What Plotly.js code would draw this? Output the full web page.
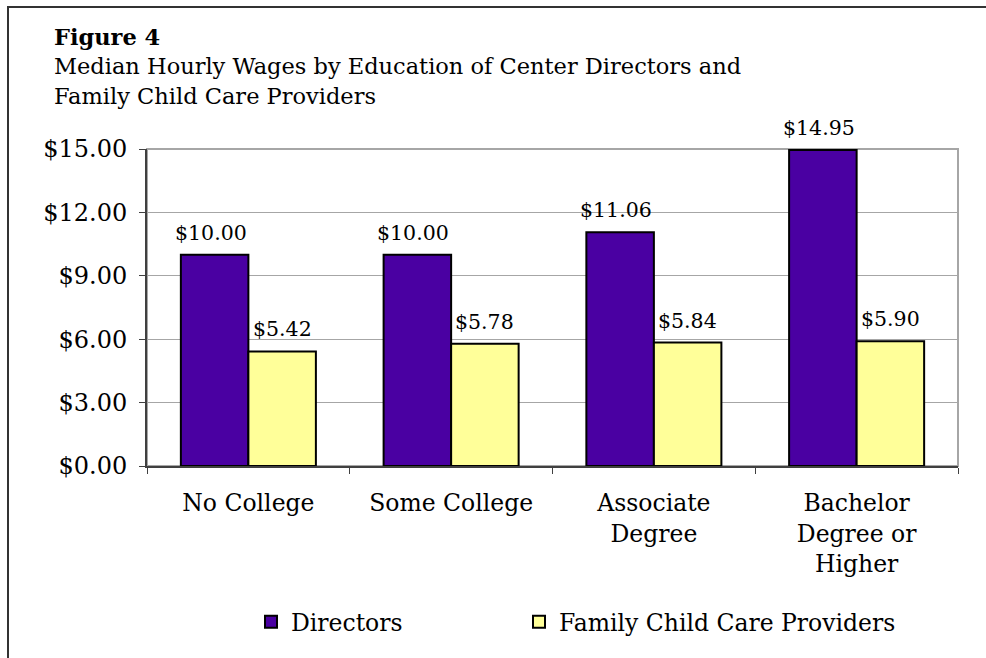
<!DOCTYPE html>
<html lang="en">
<head>
    <meta charset="UTF-8"/>
    <title>Figure 4</title>
    <script src="https://cdn.plot.ly/plotly-3.0.1.min.js"></script>
    <style>
    body {
        margin: 0;
        background: white;
    }

    #frame {
        position: absolute;
        left: 7px;
        top: 6px;
        width: 1000px;
        height: 700px;
        border-left: 2px solid #333;
        border-top: 2px solid #333;
        pointer-events: none;
    }
    </style>
</head>
<body>
    <div id="chart" style="width:986px;height:658px;"></div>
    <div id="frame"></div>

    <script>
        // data
        var categories = ['No College', 'Some College', 'Associate<br>Degree', 'Bachelor<br>Degree or<br>Higher'];
        var directors = [10.00, 10.00, 11.06, 14.95];
        var providers = [5.42, 5.78, 5.84, 5.90];
        var yTicks = [0, 3, 6, 9, 12, 15];

        var serif = 'DejaVu Serif, Liberation Serif, serif';
        var bargap = 0.334;

        var directorsTrace = {
            x: categories,
            y: directors,
            name: 'Directors',
            type: 'bar',
            legend: 'legend',
            marker: { color: '#4a00a2', line: { color: '#000', width: 2 } },
            hoverinfo: 'none'
        };

        var providersTrace = {
            x: categories,
            y: providers,
            name: 'Family Child Care Providers',
            type: 'bar',
            legend: 'legend2',
            marker: { color: '#ffff99', line: { color: '#000', width: 2 } },
            hoverinfo: 'none'
        };

        //=============================================================
        // value labels a little above each bar

        var plotW = 986 - 147 - 28;
        var halfBar = plotW / categories.length * (1 - bargap) / 4;
        var annotations = [];
        [directors, providers].forEach(function (series, s) {
            series.forEach(function (v, i) {
                annotations.push({
                    x: categories[i],
                    y: v,
                    xref: 'x', yref: 'y',
                    text: '$' + v.toFixed(2),
                    showarrow: false,
                    yanchor: 'bottom',
                    yshift: 8,
                    xshift: s === 0 ? -halfBar - 4 : halfBar,
                    font: { family: serif, size: 20.5, color: '#000' }
                });
            });
        });

        var legendFont = { family: serif, size: 23.5, color: '#000' };

        var layout = {
            width: 986,
            height: 658,
            margin: { l: 147, r: 28, t: 149, b: 192 },
            paper_bgcolor: 'white',
            plot_bgcolor: 'white',
            font: { family: serif, size: 22, color: '#000' },
            title: {
                text: '<b>Figure 4</b><br>Median Hourly Wages by Education of Center Directors and<br>Family Child Care Providers',
                font: { family: serif, size: 22.5, color: '#000' },
                x: 54 / 986,
                xanchor: 'left',
                xref: 'container',
                y: 1 - 45 / 658,
                yanchor: 'top',
                yref: 'container'
            },
            barmode: 'group',
            bargap: bargap,
            bargroupgap: 0,
            showlegend: true,
            legend: {
                orientation: 'h',
                x: 251 / 986,
                xanchor: 'left',
                xref: 'container',
                y: 1 - 600 / 658,
                yanchor: 'top',
                yref: 'container',
                font: legendFont
            },
            legend2: {
                orientation: 'h',
                x: 519 / 986,
                xanchor: 'left',
                xref: 'container',
                y: 1 - 600 / 658,
                yanchor: 'top',
                yref: 'container',
                font: legendFont
            },
            annotations: annotations,
            xaxis: {
                type: 'category',
                showline: true,
                linecolor: '#404040',
                linewidth: 2,
                ticks: 'outside',
                tickson: 'boundaries',
                ticklen: 6,
                tickcolor: '#404040',
                ticklabelstandoff: 15,
                tickfont: { family: serif, size: 23.5, color: '#000' },
                showgrid: false
            },
            yaxis: {
                range: [0, 15],
                tickvals: yTicks,
                tickformat: '$.2f',
                showline: true,
                linecolor: '#404040',
                linewidth: 2,
                ticks: 'outside',
                ticklen: 6,
                tickcolor: '#404040',
                ticklabelstandoff: 7,
                tickfont: { family: serif, size: 24, color: '#000' },
                showgrid: true,
                gridcolor: '#a6a6a6',
                gridwidth: 1,
                zeroline: false
            },
            shapes: [{
                type: 'rect',
                xref: 'paper', yref: 'paper',
                x0: 0, x1: 1, y0: 0, y1: 1,
                line: { color: '#a6a6a6', width: 2 },
                layer: 'below'
            }]
        };

        Plotly.newPlot('chart', [directorsTrace, providersTrace], layout, { staticPlot: true });
    </script>
</body>
</html>
